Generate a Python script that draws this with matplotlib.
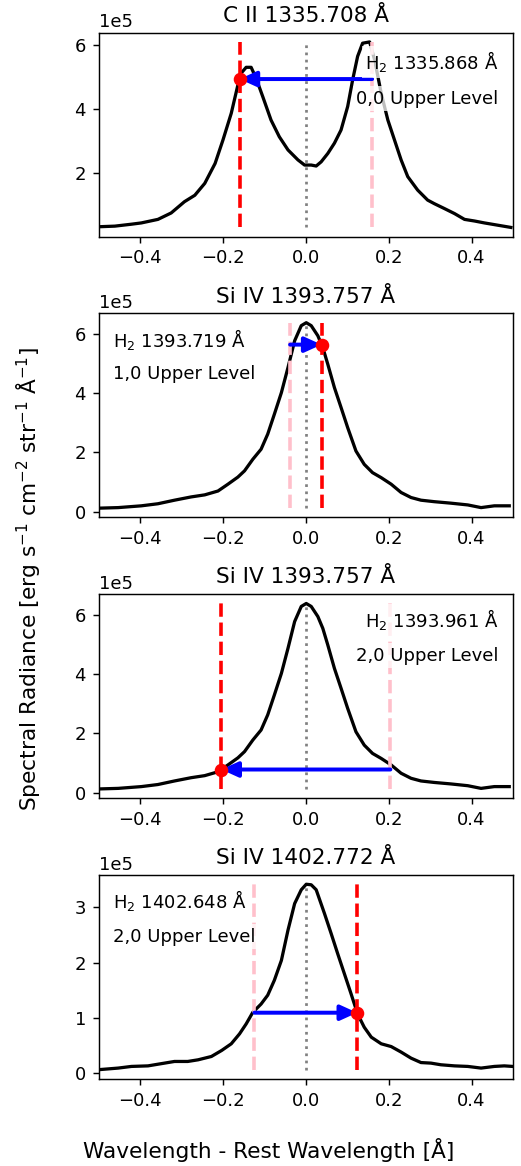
import numpy as np
import matplotlib.pyplot as plt

# line profiles, wavelength offset [A] and radiance in units of 1e5
cii_x = [-0.502, -0.461, -0.421, -0.397, -0.357, -0.325, -0.293, -0.268, -0.244, -0.219,
         -0.200, -0.180, -0.164, -0.156, -0.144, -0.132, -0.120, -0.104, -0.084, -0.064,
         -0.043, -0.019, -0.003, 0.013, 0.025, 0.037, 0.053, 0.069, 0.085, 0.101,
         0.113, 0.125, 0.137, 0.154, 0.166, 0.182, 0.198, 0.214, 0.230, 0.246,
         0.270, 0.294, 0.310, 0.334, 0.359, 0.383, 0.407, 0.431, 0.463, 0.495]
cii_y = [0.34, 0.36, 0.42, 0.46, 0.57, 0.77, 1.12, 1.32, 1.69, 2.31,
         3.04, 3.87, 4.75, 5.12, 5.30, 5.30, 4.96, 4.39, 3.66, 3.14,
         2.73, 2.42, 2.26, 2.26, 2.23, 2.36, 2.62, 2.94, 3.35, 4.08,
         4.91, 5.64, 6.05, 6.09, 5.53, 4.49, 3.66, 3.04, 2.42, 1.90,
         1.48, 1.17, 1.06, 0.91, 0.75, 0.57, 0.52, 0.46, 0.39, 0.32]

si1393_x = [-0.502, -0.453, -0.397, -0.357, -0.317, -0.277, -0.244, -0.212, -0.188, -0.164,
            -0.148, -0.128, -0.108, -0.092, -0.076, -0.059, -0.043, -0.027, -0.011, 0.001,
            0.013, 0.029, 0.041, 0.053, 0.069, 0.085, 0.101, 0.121, 0.141, 0.161,
            0.182, 0.206, 0.230, 0.254, 0.278, 0.310, 0.350, 0.391, 0.423, 0.455, 0.491]
si1393_y = [0.12, 0.14, 0.20, 0.27, 0.39, 0.50, 0.57, 0.70, 0.93, 1.17,
            1.38, 1.77, 2.11, 2.62, 3.29, 4.02, 4.87, 5.77, 6.28, 6.38,
            6.28, 5.94, 5.54, 4.98, 4.19, 3.52, 2.84, 2.05, 1.60, 1.32,
            1.15, 0.93, 0.65, 0.48, 0.39, 0.34, 0.29, 0.23, 0.14, 0.20, 0.20]

si1402_x = [-0.502, -0.453, -0.421, -0.381, -0.341, -0.317, -0.285, -0.260, -0.228, -0.203,
            -0.180, -0.160, -0.144, -0.128, -0.108, -0.092, -0.076, -0.059, -0.043, -0.027,
            -0.011, 0.001, 0.013, 0.025, 0.045, 0.061, 0.077, 0.093, 0.109, 0.125,
            0.141, 0.158, 0.182, 0.206, 0.230, 0.254, 0.278, 0.302, 0.326, 0.359,
            0.391, 0.423, 0.455, 0.479, 0.499]
si1402_y = [0.06, 0.09, 0.12, 0.13, 0.18, 0.21, 0.21, 0.24, 0.30, 0.41,
            0.53, 0.71, 0.89, 1.10, 1.25, 1.41, 1.68, 2.04, 2.59, 3.07,
            3.32, 3.42, 3.41, 3.32, 2.89, 2.53, 2.16, 1.80, 1.44, 1.07,
            0.83, 0.65, 0.53, 0.48, 0.38, 0.27, 0.19, 0.18, 0.15, 0.13,
            0.12, 0.09, 0.12, 0.13, 0.12]

titles = ['C II 1335.708 Å', 'Si IV 1393.757 Å', 'Si IV 1393.757 Å', 'Si IV 1402.772 Å']
rest_wl = [1335.708, 1393.757, 1393.757, 1402.772]
h2_wl = [1335.868, 1393.719, 1393.961, 1402.648]
h2_level = ['0,0', '1,0', '2,0', '2,0']
profiles = [(cii_x, cii_y), (si1393_x, si1393_y), (si1393_x, si1393_y), (si1402_x, si1402_y)]

# text heights (axes fraction) for the two labels in each panel
label_y = [(0.857, 0.677), (0.873, 0.703), (0.874, 0.699), (0.873, 0.698)]

fig, axes = plt.subplots(4, 1, figsize=(521 / 130, 1166 / 130), dpi=130)
fig.subplots_adjust(left=0.1894, right=0.9846, top=0.972, bottom=0.0746, hspace=0.376)

for i, ax in enumerate(axes):
    x = np.array(profiles[i][0])
    y = np.array(profiles[i][1]) * 1e5
    off = round(h2_wl[i] - rest_wl[i], 3)
    mirror = -off
    ymin, ymax = y.min(), y.max()

    ax.plot(x, y, color='black', lw=1.8)
    ax.vlines(0, ymin, ymax, colors='gray', linestyles=':', lw=1.5)
    ax.vlines(off, ymin, ymax, colors='pink', linestyles='--', lw=2)
    ax.vlines(mirror, ymin, ymax, colors='red', linestyles='--', lw=2)

    yv = np.interp(mirror, x, y)
    ax.annotate('', xy=(mirror, yv), xytext=(off, yv),
                arrowprops=dict(arrowstyle='-|>,head_length=0.55,head_width=0.25',
                                color='blue', lw=2.2, mutation_scale=14,
                                shrinkA=0, shrinkB=0))
    ax.plot(mirror, yv, 'o', color='red', ms=6.5, zorder=4)

    if off > 0:
        tx, ha = 0.965, 'right'
    else:
        tx, ha = 0.034, 'left'
    box = dict(facecolor='white', alpha=0.75, edgecolor='none', pad=2)
    ax.text(tx, label_y[i][0], f'H$_2$ {h2_wl[i]:.3f} Å', transform=ax.transAxes,
            ha=ha, va='center', fontsize=10, bbox=box, zorder=5)
    ax.text(tx, label_y[i][1], f'{h2_level[i]} Upper Level', transform=ax.transAxes,
            ha=ha, va='center', fontsize=10, bbox=box, zorder=5)

    ax.set_xlim(-0.5, 0.5)
    ax.set_title(titles[i], fontsize=12)
    ax.ticklabel_format(axis='y', style='sci', scilimits=(0, 0))

fig.text(0.055, 0.503, 'Spectral Radiance [erg s$^{-1}$ cm$^{-2}$ str$^{-1}$ Å$^{-1}$]',
         rotation=90, ha='center', va='center', fontsize=12)
fig.text(0.515, 0.0137, 'Wavelength - Rest Wavelength [Å]', ha='center', va='center',
         fontsize=12)

plt.savefig('out.png', dpi=130)
